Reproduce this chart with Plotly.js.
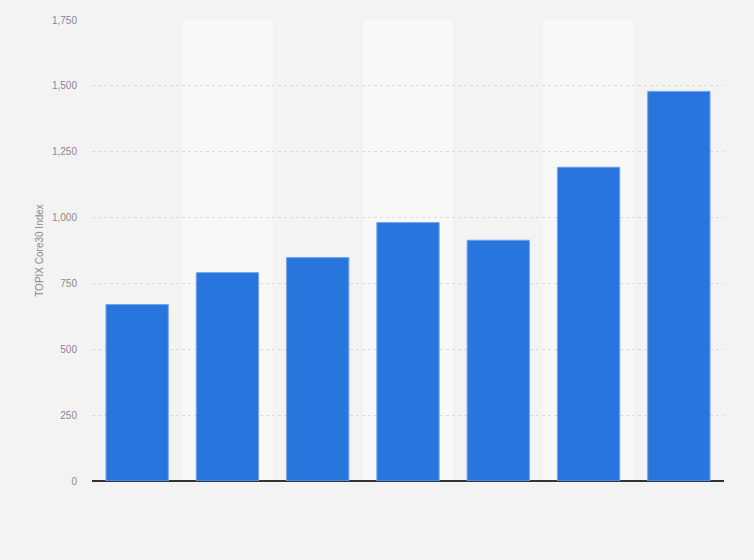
<!DOCTYPE html>
<html>
<head>
<meta charset="utf-8">
<script src="https://cdn.plot.ly/plotly-3.0.1.min.js"></script>
<style>html,body{margin:0;padding:0;background:#f3f3f3;}#chart{width:754px;height:560px;}</style>
</head>
<body>
<div id="chart"></div>
<script>
var categories = ["2016", "2017", "2018", "2019", "2020", "2021", "2022"];
var values = [670, 791, 848, 981, 914, 1191, 1479];
var yTicks = [0, 250, 500, 750, 1000, 1250, 1500, 1750];
var yTickLabels = ["0", "250", "500", "750", "1,000", "1,250", "1,500", "1,750"];

var shapes = [];
for (var i = 1; i < categories.length; i += 2) {
  shapes.push({type: 'rect', xref: 'x', yref: 'paper', x0: i - 0.5, x1: i + 0.5, y0: 0, y1: 1,
    fillcolor: '#f8f8f8', line: {width: 0}, layer: 'below'});
}

var trace = {
  type: 'bar', x: categories, y: values,
  marker: {color: '#2876dd', line: {color: '#6fa3ea', width: 1}},
  hoverinfo: 'x+y'
};

var layout = {
  width: 754, height: 560,
  margin: {l: 92, r: 30, t: 20, b: 79},
  paper_bgcolor: '#f3f3f3', plot_bgcolor: '#f3f3f3',
  bargap: 0.31,
  showlegend: false,
  shapes: shapes,
  xaxis: {type: 'category', showticklabels: false, showgrid: false, zeroline: false,
    showline: false, ticks: '', range: [-0.5, categories.length - 0.5]},
  yaxis: {range: [0, 1750], tickvals: yTicks, ticktext: yTickLabels,
    showgrid: true, gridcolor: '#dadada', griddash: 'dot', gridwidth: 1,
    zeroline: true, zerolinecolor: '#333333', zerolinewidth: 1.5,
    tickfont: {family: 'Liberation Sans, Arial, sans-serif', size: 10, color: '#8a8a8a'},
    ticks: '', ticklabelstandoff: 14,
    title: {text: 'TOPIX Core30 Index', standoff: 6,
      font: {family: 'Liberation Sans, Arial, sans-serif', size: 10, color: '#8a8a8a'}}}
};

Plotly.newPlot('chart', [trace], layout, {displayModeBar: false, staticPlot: true});
</script>
</body>
</html>
